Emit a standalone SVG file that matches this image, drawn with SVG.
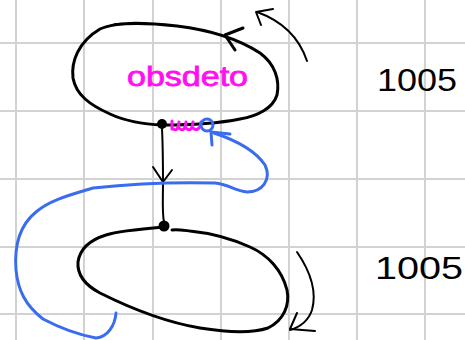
<svg xmlns="http://www.w3.org/2000/svg" width="465" height="340" viewBox="0 0 465 340">
  <style>
    .grid { stroke: #d2d2d2; stroke-width: 2; }
    .ink { fill: none; stroke: #000; stroke-width: 3; stroke-linecap: round; stroke-linejoin: round; }
    .thin { fill: none; stroke: #000; stroke-width: 2; stroke-linecap: round; stroke-linejoin: round; }
    .blue { fill: none; stroke: #3a6cf0; stroke-width: 3; stroke-linecap: round; stroke-linejoin: round; }
    .pink { fill: none; stroke: #ff10f0; stroke-width: 3; stroke-linecap: round; stroke-linejoin: round; }
    .label { font-family: "Liberation Sans", Arial, sans-serif; fill: #ff10f0; stroke: #ff10f0; stroke-width: 0.8; }
    .num { font-family: "Liberation Sans", Arial, sans-serif; fill: #000; }
  </style>
  <rect width="465" height="340" fill="#fff"/>

  <!-- squared paper -->
  <g id="grid" class="grid">
    <line x1="16" y1="0" x2="16" y2="340"/>
    <line x1="84" y1="0" x2="84" y2="340"/>
    <line x1="153" y1="0" x2="153" y2="340"/>
    <line x1="221" y1="0" x2="221" y2="340"/>
    <line x1="289" y1="0" x2="289" y2="340"/>
    <line x1="357" y1="0" x2="357" y2="340"/>
    <line x1="425" y1="0" x2="425" y2="340"/>
    <line x1="0" y1="43" x2="465" y2="43"/>
    <line x1="0" y1="111" x2="465" y2="111"/>
    <line x1="0" y1="179" x2="465" y2="179"/>
    <line x1="0" y1="247" x2="465" y2="247"/>
    <line x1="0" y1="314" x2="465" y2="314"/>
  </g>

  <!-- upper state -->
  <g id="node-top">
    <path class="ink" d="M163,125 C140,124 125,121 110,114 C90,105 76,95 73,78 C71,62 78,42 100,29 C115,22 140,22 177,26 C210,30 240,40 260,53 C275,64 280,80 277,95 C273,108 258,116 240,119 C220,123 190,125 163,125 Z"/>
    <path class="thin" d="M115,24 L125,24"/>
    <!-- orientation chevron on the upper edge -->
    <path class="ink" d="M243,28 L225,35 L235,50"/>
    <text class="label" x="127" y="86" font-size="28" textLength="121" lengthAdjust="spacingAndGlyphs">obsdeto</text>
    <path class="pink" d="M172,129 L172,121 M172,128 C175,131 178,131 179,122 M179,128 C182,131 185,131 186,122 M186,128 C189,131 192,131 193,122 M193,128 C196,131 200,130 201,122"/>
    <text class="num" x="377" y="91" font-size="31" textLength="80" lengthAdjust="spacingAndGlyphs">1005</text>
    <!-- rotation arrow -->
    <path class="thin" d="M307,61 C300,40 285,22 257,12"/>
    <path class="thin" d="M273,9 L256,12 L261,25"/>
  </g>

  <!-- lower state -->
  <g id="node-bottom">
    <path class="ink" d="M164,227 C140,229 118,231 106,235 C90,240 80,248 78,262 C77,275 85,285 100,293 C130,308 165,322 200,328 C225,332 250,334 268,328 C284,320 290,305 287,290 C282,270 268,255 250,247 C230,238 210,233 190,231 C182,230 176,229 172,230"/>
    <text class="num" x="375" y="279" font-size="31" textLength="88" lengthAdjust="spacingAndGlyphs">1005</text>
    <!-- rotation arrow -->
    <path class="thin" d="M297,252 C308,268 318,288 312,310 C308,322 300,327 290,330"/>
    <path class="thin" d="M297,313 L290,329 L315,331"/>
  </g>

  <!-- connectors -->
  <g id="connectors">
    <circle cx="162" cy="124" r="5" fill="#000"/>
    <circle cx="164" cy="226" r="5.5" fill="#000"/>
    <path class="thin" d="M162,128 C163,150 163,170 163,182 C163,200 162,212 164,222"/>
    <path class="thin" d="M153,167 L163,182 L172,170"/>
    <!-- blue wrap-around link -->
    <circle cx="207" cy="125" r="6" fill="none" stroke="#3a6cf0" stroke-width="3"/>
    <path class="blue" d="M214,133 C235,140 255,150 265,165 C272,180 262,192 247,192 C235,191 228,184 215,183 C180,182 130,184 93,188 C70,195 50,200 36,212 C20,225 14,245 16,270 C18,290 25,305 43,319 C60,328 80,335 96,338 C108,337 115,325 116,313"/>
    <path class="blue" d="M230,134 L211,132 L212,145"/>
  </g>
</svg>
